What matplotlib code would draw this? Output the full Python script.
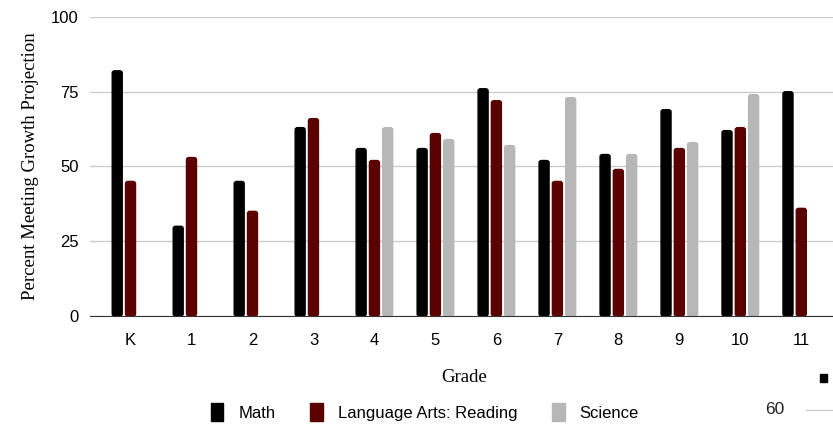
"""
Percent meeting growth projection by grade
"""

import numpy as np
import matplotlib.pyplot as plt
from matplotlib.patches import Patch, FancyBboxPatch

grades = ["K", "1", "2", "3", "4", "5", "6", "7", "8", "9", "10", "11"]
math = [82, 30, 45, 63, 56, 56, 76, 52, 54, 69, 62, 75]
reading = [45, 53, 35, 66, 52, 61, 72, 45, 49, 56, 63, 36]
science = [np.nan, np.nan, np.nan, np.nan, 63, 59, 57, 73, 54, 58, 74, np.nan]

series_names = ["Math", "Language Arts: Reading", "Science"]
colors = ["#000000", "#5a0000", "#b7b7b7"]

if __name__ == "__main__":
    fig = plt.figure(figsize=(8.33, 4.25), dpi=100)
    ax = fig.add_axes([0.108, 0.2565, 0.892, 0.7035])

    x = np.arange(len(grades))
    step = 0.218
    width = 0.164
    for i, (vals, c) in enumerate(zip([math, reading, science], colors)):
        bars = ax.bar(x + (i - 1) * step, vals, width=width, color=c, zorder=3)
        # swap plain rectangles for slightly rounded ones
        for b in bars:
            h = b.get_height()
            if np.isnan(h):
                continue
            b.set_visible(False)
            ax.add_patch(FancyBboxPatch((b.get_x(), 0), b.get_width(), h,
                                        boxstyle="round,pad=0,rounding_size=0.04",
                                        mutation_aspect=18, color=c, zorder=3))

    ax.set_xlim(-0.665, 11.52)
    ax.set_ylim(0, 100)
    ax.set_yticks([0, 25, 50, 75, 100])
    ax.set_xticks(x)
    ax.set_xticklabels(grades)
    ax.grid(axis="y", color="#cccccc", linewidth=1, zorder=0)
    for s in ["top", "right", "left"]:
        ax.spines[s].set_visible(False)
    ax.spines["bottom"].set_color("#333333")
    ax.spines["bottom"].set_zorder(4)
    ax.tick_params(length=0, labelsize=12, colors="#000000")
    ax.tick_params(axis="y", pad=8)
    ax.tick_params(axis="x", pad=12)
    for lab in ax.get_xticklabels() + ax.get_yticklabels():
        lab.set_family("Liberation Sans")

    ax.set_ylabel("Percent Meeting Growth Projection", family="Liberation Serif",
                  fontsize=13.5, labelpad=9)
    fig.text(464 / 833, 1 - 378 / 425, "Grade", family="Liberation Serif",
             fontsize=13.5, ha="center", va="center")

    handles = [Patch(facecolor=c, edgecolor=c, label=n) for n, c in zip(series_names, colors)]
    fig.legend(handles=handles, loc="center", bbox_to_anchor=(0.51, 1 - 412 / 425),
               ncol=3, frameon=False, prop={"family": "Liberation Sans", "size": 12},
               handlelength=0.75, handleheight=1.3, columnspacing=2.1, handletextpad=0.9)

    # stray bits of a neighbouring chart at the bottom right
    fig.text(775 / 833, 1 - 410 / 425, "60", family="Liberation Sans", fontsize=12.5,
             ha="center", va="center", color="#222222")
    fig.add_artist(plt.Line2D([806 / 833, 1.0], [1 - 410 / 425] * 2, color="#cccccc", lw=1))
    fig.add_artist(plt.Rectangle((820 / 833, 1 - 382 / 425), 7 / 833, 8 / 425,
                                 color="#000000", transform=fig.transFigure))

    plt.savefig("out.png", dpi=100)
